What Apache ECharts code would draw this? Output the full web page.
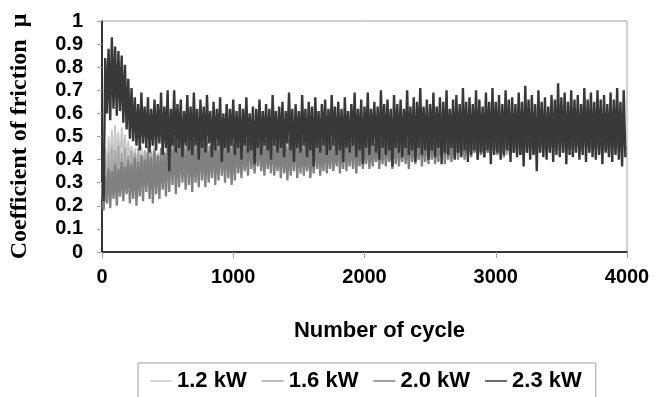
<!DOCTYPE html>
<html>
<head>
<meta charset="utf-8">
<script src="https://cdn.jsdelivr.net/npm/echarts@6/dist/echarts.min.js"></script>
<style>
  html, body { margin: 0; padding: 0; background: #fff; }
  #chart { width: 665px; height: 397px; }
</style>
</head>
<body>
<div id="chart"></div>
<script>
  const STEP = 25
  const seriesNames = ['1.2 kW', '1.6 kW', '2.0 kW', '2.3 kW']
  const xTicks = [0, 1000, 2000, 3000, 4000]

  const kw12Hi = [
    0.30, 0.45, 0.50, 0.53, 0.55, 0.52, 0.54, 0.51, 0.48, 0.46,
    0.45, 0.44, 0.46, 0.43, 0.45, 0.44, 0.46, 0.43, 0.45, 0.44,
    0.46, 0.48, 0.45, 0.47, 0.49, 0.46, 0.48, 0.45, 0.47, 0.49,
    0.46, 0.48, 0.47, 0.45, 0.49, 0.46, 0.48, 0.47, 0.45, 0.48,
    0.47, 0.45, 0.48, 0.46, 0.49, 0.47, 0.45, 0.48, 0.46, 0.49,
    0.47, 0.49, 0.46, 0.48, 0.45, 0.47, 0.49, 0.46, 0.48, 0.47,
    0.48, 0.46, 0.49, 0.47, 0.45, 0.48, 0.46, 0.49, 0.47, 0.48,
    0.46, 0.49, 0.47, 0.48, 0.46, 0.50, 0.47, 0.48, 0.46, 0.49,
    0.48, 0.47, 0.50, 0.46, 0.49, 0.47, 0.48, 0.50, 0.47, 0.49,
    0.47, 0.50, 0.48, 0.49, 0.47, 0.50, 0.48, 0.47, 0.49, 0.50,
    0.49, 0.47, 0.50, 0.48, 0.51, 0.49, 0.47, 0.50, 0.48, 0.51,
    0.48, 0.50, 0.49, 0.51, 0.48, 0.50, 0.52, 0.49, 0.51, 0.50,
    0.50, 0.52, 0.49, 0.51, 0.50, 0.52, 0.49, 0.51, 0.53, 0.50,
    0.51, 0.49, 0.52, 0.50, 0.53, 0.51, 0.49, 0.52, 0.50, 0.51,
    0.52, 0.50, 0.53, 0.51, 0.49, 0.52, 0.51, 0.53, 0.50, 0.52,
    0.50, 0.53, 0.51, 0.52, 0.50, 0.53, 0.51, 0.49, 0.52, 0.51
  ]
  const kw12Lo = [
    0.25, 0.36, 0.38, 0.37, 0.40, 0.38, 0.41, 0.39, 0.40, 0.38,
    0.36, 0.38, 0.35, 0.37, 0.36, 0.38, 0.36, 0.37, 0.35, 0.37,
    0.38, 0.40, 0.37, 0.39, 0.41, 0.38, 0.40, 0.37, 0.39, 0.41,
    0.39, 0.41, 0.38, 0.40, 0.42, 0.39, 0.41, 0.38, 0.40, 0.42,
    0.40, 0.38, 0.41, 0.39, 0.42, 0.40, 0.38, 0.41, 0.39, 0.42,
    0.40, 0.42, 0.39, 0.41, 0.43, 0.40, 0.42, 0.39, 0.41, 0.43,
    0.41, 0.39, 0.42, 0.40, 0.43, 0.41, 0.39, 0.42, 0.40, 0.43,
    0.41, 0.43, 0.40, 0.42, 0.41, 0.43, 0.40, 0.42, 0.44, 0.41,
    0.42, 0.40, 0.43, 0.41, 0.44, 0.42, 0.40, 0.43, 0.41, 0.44,
    0.42, 0.44, 0.41, 0.43, 0.42, 0.44, 0.41, 0.43, 0.45, 0.42,
    0.43, 0.41, 0.44, 0.42, 0.45, 0.43, 0.41, 0.44, 0.42, 0.45,
    0.43, 0.45, 0.42, 0.44, 0.43, 0.45, 0.42, 0.44, 0.46, 0.43,
    0.44, 0.42, 0.45, 0.43, 0.46, 0.44, 0.42, 0.45, 0.43, 0.46,
    0.44, 0.46, 0.43, 0.45, 0.44, 0.46, 0.43, 0.45, 0.47, 0.44,
    0.45, 0.43, 0.46, 0.44, 0.47, 0.45, 0.43, 0.46, 0.44, 0.47,
    0.45, 0.47, 0.44, 0.46, 0.45, 0.47, 0.44, 0.46, 0.48, 0.45
  ]

  const kw16Hi = [
    0.28, 0.40, 0.43, 0.45, 0.44, 0.46, 0.43, 0.45, 0.42, 0.44,
    0.43, 0.45, 0.42, 0.44, 0.46, 0.43, 0.45, 0.42, 0.44, 0.43,
    0.45, 0.47, 0.44, 0.46, 0.48, 0.45, 0.47, 0.44, 0.46, 0.48,
    0.45, 0.47, 0.46, 0.44, 0.48, 0.45, 0.47, 0.46, 0.44, 0.47,
    0.46, 0.44, 0.47, 0.45, 0.48, 0.46, 0.44, 0.47, 0.45, 0.48,
    0.46, 0.48, 0.45, 0.47, 0.44, 0.46, 0.48, 0.45, 0.47, 0.46,
    0.47, 0.45, 0.48, 0.46, 0.44, 0.47, 0.45, 0.48, 0.46, 0.47,
    0.45, 0.48, 0.46, 0.47, 0.45, 0.49, 0.46, 0.47, 0.45, 0.48,
    0.47, 0.46, 0.49, 0.45, 0.48, 0.46, 0.47, 0.49, 0.46, 0.48,
    0.46, 0.49, 0.47, 0.48, 0.46, 0.49, 0.47, 0.46, 0.48, 0.49,
    0.48, 0.46, 0.49, 0.47, 0.50, 0.48, 0.46, 0.49, 0.47, 0.50,
    0.47, 0.49, 0.48, 0.50, 0.47, 0.49, 0.51, 0.48, 0.50, 0.49,
    0.49, 0.51, 0.48, 0.50, 0.49, 0.51, 0.48, 0.50, 0.52, 0.49,
    0.50, 0.48, 0.51, 0.49, 0.52, 0.50, 0.48, 0.51, 0.49, 0.50,
    0.51, 0.49, 0.52, 0.50, 0.48, 0.51, 0.50, 0.52, 0.49, 0.51,
    0.49, 0.52, 0.50, 0.51, 0.49, 0.52, 0.50, 0.48, 0.51, 0.50
  ]
  const kw16Lo = [
    0.22, 0.27, 0.30, 0.28, 0.32, 0.30, 0.33, 0.31, 0.29, 0.32,
    0.31, 0.29, 0.32, 0.30, 0.33, 0.31, 0.29, 0.32, 0.30, 0.33,
    0.33, 0.35, 0.32, 0.34, 0.36, 0.33, 0.35, 0.32, 0.34, 0.36,
    0.35, 0.37, 0.34, 0.36, 0.38, 0.35, 0.37, 0.34, 0.36, 0.38,
    0.37, 0.35, 0.38, 0.36, 0.39, 0.37, 0.35, 0.38, 0.36, 0.39,
    0.38, 0.40, 0.37, 0.39, 0.41, 0.38, 0.40, 0.37, 0.39, 0.41,
    0.39, 0.37, 0.40, 0.38, 0.41, 0.39, 0.37, 0.40, 0.38, 0.41,
    0.39, 0.41, 0.38, 0.40, 0.39, 0.41, 0.38, 0.40, 0.42, 0.39,
    0.40, 0.38, 0.41, 0.39, 0.42, 0.40, 0.38, 0.41, 0.39, 0.42,
    0.41, 0.43, 0.40, 0.42, 0.41, 0.43, 0.40, 0.42, 0.44, 0.41,
    0.42, 0.40, 0.43, 0.41, 0.44, 0.42, 0.40, 0.43, 0.41, 0.44,
    0.42, 0.44, 0.41, 0.43, 0.42, 0.44, 0.41, 0.43, 0.45, 0.42,
    0.43, 0.41, 0.44, 0.42, 0.45, 0.43, 0.41, 0.44, 0.42, 0.45,
    0.44, 0.46, 0.43, 0.45, 0.44, 0.46, 0.43, 0.45, 0.47, 0.44,
    0.45, 0.43, 0.46, 0.44, 0.47, 0.45, 0.43, 0.46, 0.44, 0.47,
    0.45, 0.47, 0.44, 0.46, 0.45, 0.47, 0.44, 0.46, 0.48, 0.45
  ]

  const kw20Hi = [
    0.28, 0.33, 0.36, 0.35, 0.38, 0.36, 0.39, 0.37, 0.40, 0.38,
    0.41, 0.39, 0.42, 0.40, 0.43, 0.41, 0.44, 0.42, 0.45, 0.43,
    0.48, 0.46, 0.50, 0.47, 0.49, 0.46, 0.51, 0.47, 0.49, 0.46,
    0.50, 0.47, 0.48, 0.46, 0.51, 0.47, 0.49, 0.46, 0.50, 0.48,
    0.47, 0.50, 0.46, 0.49, 0.47, 0.51, 0.46, 0.48, 0.50, 0.47,
    0.49, 0.46, 0.51, 0.47, 0.48, 0.50, 0.46, 0.49, 0.47, 0.51,
    0.48, 0.50, 0.47, 0.49, 0.46, 0.51, 0.48, 0.47, 0.50, 0.48,
    0.49, 0.47, 0.51, 0.48, 0.50, 0.47, 0.49, 0.51, 0.48, 0.50,
    0.48, 0.51, 0.49, 0.47, 0.50, 0.48, 0.52, 0.49, 0.47, 0.50,
    0.51, 0.48, 0.50, 0.49, 0.52, 0.48, 0.50, 0.51, 0.49, 0.52,
    0.50, 0.52, 0.49, 0.51, 0.50, 0.53, 0.49, 0.51, 0.52, 0.50,
    0.52, 0.50, 0.53, 0.51, 0.49, 0.52, 0.50, 0.53, 0.51, 0.52,
    0.51, 0.53, 0.50, 0.52, 0.54, 0.51, 0.53, 0.50, 0.52, 0.54,
    0.52, 0.50, 0.53, 0.51, 0.54, 0.52, 0.50, 0.53, 0.51, 0.52,
    0.53, 0.51, 0.54, 0.52, 0.50, 0.53, 0.51, 0.54, 0.52, 0.53,
    0.51, 0.54, 0.52, 0.53, 0.51, 0.54, 0.52, 0.50, 0.53, 0.52
  ]
  const kw20Lo = [
    0.18, 0.21, 0.19, 0.23, 0.20, 0.24, 0.22, 0.25, 0.21, 0.23,
    0.20, 0.24, 0.22, 0.26, 0.23, 0.21, 0.25, 0.23, 0.27, 0.24,
    0.26, 0.29, 0.25, 0.28, 0.30, 0.27, 0.29, 0.26, 0.30, 0.28,
    0.31, 0.28, 0.30, 0.32, 0.29, 0.31, 0.33, 0.30, 0.32, 0.29,
    0.31, 0.34, 0.32, 0.35, 0.33, 0.36, 0.34, 0.37, 0.35, 0.33,
    0.36, 0.34, 0.33, 0.35, 0.32, 0.34, 0.31, 0.33, 0.35, 0.32,
    0.34, 0.33, 0.35, 0.32, 0.34, 0.36, 0.33, 0.35, 0.34, 0.36,
    0.35, 0.37, 0.34, 0.36, 0.35, 0.37, 0.36, 0.34, 0.37, 0.36,
    0.38, 0.36, 0.37, 0.39, 0.36, 0.38, 0.37, 0.39, 0.36, 0.38,
    0.37, 0.39, 0.38, 0.36, 0.39, 0.38, 0.40, 0.37, 0.39, 0.38,
    0.40, 0.38, 0.39, 0.41, 0.38, 0.40, 0.39, 0.41, 0.40, 0.42,
    0.40, 0.42, 0.41, 0.43, 0.40, 0.42, 0.41, 0.43, 0.42, 0.44,
    0.42, 0.43, 0.41, 0.44, 0.42, 0.43, 0.45, 0.42, 0.44, 0.43,
    0.44, 0.42, 0.45, 0.43, 0.44, 0.42, 0.45, 0.43, 0.44, 0.46,
    0.43, 0.45, 0.44, 0.42, 0.45, 0.43, 0.44, 0.46, 0.43, 0.45,
    0.44, 0.43, 0.45, 0.44, 0.42, 0.45, 0.43, 0.44, 0.46, 0.44
  ]

  const kw23Hi = [
    0.42, 0.84, 0.88, 0.93, 0.89, 0.87, 0.85, 0.81, 0.75, 0.71,
    0.67, 0.64, 0.69, 0.63, 0.67, 0.62, 0.66, 0.64, 0.69, 0.63,
    0.70, 0.62, 0.70, 0.64, 0.66, 0.61, 0.68, 0.63, 0.69, 0.62,
    0.66, 0.63, 0.68, 0.61, 0.65, 0.62, 0.67, 0.60, 0.64, 0.62,
    0.66, 0.61, 0.64, 0.62, 0.67, 0.60, 0.63, 0.62, 0.66, 0.61,
    0.64, 0.62, 0.68, 0.61, 0.63, 0.65, 0.61, 0.69, 0.62, 0.64,
    0.61, 0.68, 0.62, 0.65, 0.63, 0.67, 0.61, 0.64, 0.66, 0.62,
    0.68, 0.63, 0.65, 0.62, 0.67, 0.61, 0.64, 0.69, 0.62, 0.66,
    0.63, 0.69, 0.62, 0.65, 0.63, 0.70, 0.64, 0.66, 0.62, 0.68,
    0.64, 0.66, 0.62, 0.70, 0.63, 0.67, 0.65, 0.71, 0.63, 0.66,
    0.64, 0.69, 0.63, 0.67, 0.65, 0.70, 0.62, 0.66, 0.68, 0.64,
    0.71, 0.65, 0.67, 0.64, 0.70, 0.66, 0.63, 0.69, 0.65, 0.71,
    0.65, 0.68, 0.64, 0.70, 0.66, 0.67, 0.64, 0.69, 0.65, 0.72,
    0.66, 0.68, 0.64, 0.70, 0.65, 0.67, 0.63, 0.68, 0.66, 0.73,
    0.67, 0.69, 0.65, 0.70, 0.66, 0.68, 0.64, 0.71, 0.66, 0.69,
    0.65, 0.70, 0.66, 0.68, 0.64, 0.69, 0.66, 0.71, 0.65, 0.70
  ]
  const kw23Lo = [
    0.22, 0.60, 0.57, 0.62, 0.59, 0.61, 0.56, 0.53, 0.49, 0.48,
    0.46, 0.44, 0.47, 0.45, 0.43, 0.46, 0.44, 0.47, 0.42, 0.45,
    0.35, 0.46, 0.43, 0.45, 0.41, 0.46, 0.44, 0.42, 0.46, 0.40,
    0.45, 0.43, 0.47, 0.41, 0.44, 0.46, 0.39, 0.45, 0.43, 0.46,
    0.42, 0.45, 0.40, 0.46, 0.43, 0.44, 0.38, 0.45, 0.42, 0.46,
    0.44, 0.40, 0.46, 0.43, 0.45, 0.41, 0.47, 0.44, 0.39, 0.45,
    0.43, 0.46, 0.41, 0.44, 0.37, 0.45, 0.43, 0.46, 0.42, 0.44,
    0.46, 0.42, 0.44, 0.39, 0.45, 0.43, 0.46, 0.41, 0.44, 0.38,
    0.45, 0.42, 0.46, 0.43, 0.40, 0.45, 0.42, 0.44, 0.37, 0.45,
    0.43, 0.41, 0.45, 0.42, 0.44, 0.39, 0.45, 0.42, 0.44, 0.40,
    0.44, 0.41, 0.45, 0.38, 0.43, 0.42, 0.45, 0.40, 0.43, 0.41,
    0.44, 0.39, 0.42, 0.44, 0.40, 0.43, 0.41, 0.44, 0.38, 0.42,
    0.43, 0.40, 0.42, 0.44, 0.39, 0.43, 0.41, 0.42, 0.37, 0.43,
    0.40, 0.42, 0.35, 0.43, 0.41, 0.40, 0.43, 0.39, 0.42, 0.41,
    0.43, 0.38, 0.42, 0.41, 0.43, 0.40, 0.42, 0.39, 0.43, 0.41,
    0.40, 0.42, 0.38, 0.43, 0.41, 0.39, 0.42, 0.40, 0.37, 0.41
  ]

  const colors = ['#c8c8c8', '#a6a6a6', '#808080', '#383838']
  const widths = [1.8, 1.8, 2.3, 2.4]

  // put the upper and lower swing of each 25-cycle slot one after the other
  function trace(hi, lo) {
    let pts = []
    hi.forEach((h, i) => {
      pts.push([i * STEP, h])
      pts.push([i * STEP + STEP / 2, lo[i]])
    })
    return pts
  }

  const traces = [
    trace(kw12Hi, kw12Lo),
    trace(kw16Hi, kw16Lo),
    trace(kw20Hi, kw20Lo),
    trace(kw23Hi, kw23Lo)
  ]

  const sans = 'Liberation Sans, Arial, sans-serif'
  let myChart = echarts.init(document.getElementById('chart'))

  let option = {
    animation: false,
    backgroundColor: '#fff',
    color: colors,
    grid: {
      left: 102,
      right: 38,
      top: 21,
      bottom: 145,
      show: true,
      borderColor: '#a0a0a0',
      borderWidth: 1
    },
    legend: {
      left: 138,
      top: 363,
      padding: [7, 14, 12, 12],
      icon: 'rect',
      itemWidth: 22,
      itemHeight: 1.5,
      itemGap: 15,
      borderColor: '#a0a0a0',
      borderWidth: 1,
      textStyle: {
        fontFamily: sans,
        fontWeight: 'bold',
        fontSize: 22,
        color: '#000'
      },
      data: seriesNames
    },
    xAxis: {
      type: 'value',
      min: 0,
      max: 4000,
      interval: 1000,
      name: 'Number of cycle',
      nameLocation: 'middle',
      nameGap: 68,
      nameTextStyle: {
        fontFamily: sans,
        fontWeight: 'bold',
        fontSize: 22,
        color: '#000',
        padding: [0, 0, 0, 30]
      },
      axisLine: { lineStyle: { color: '#000', width: 1.5 } },
      axisTick: { show: true, length: 6, lineStyle: { color: '#a0a0a0' } },
      splitLine: { show: false },
      axisLabel: {
        margin: 15,
        fontFamily: sans,
        fontWeight: 'bold',
        fontSize: 20,
        color: '#000',
        formatter: v => xTicks.indexOf(v) >= 0 ? String(v) : ''
      }
    },
    yAxis: {
      type: 'value',
      min: 0,
      max: 1,
      interval: 0.1,
      name: 'Coefficient of friction  μ',
      nameLocation: 'middle',
      nameGap: 70,
      nameTextStyle: {
        fontFamily: 'Liberation Serif, Times New Roman, serif',
        fontWeight: 'bold',
        fontSize: 24,
        color: '#000'
      },
      axisLine: { show: true, lineStyle: { color: '#000', width: 1.5 } },
      axisTick: { show: true, length: 5, lineStyle: { color: '#a0a0a0' } },
      splitLine: { show: false },
      axisLabel: {
        margin: 19,
        padding: [7, 0, 0, 0],
        fontFamily: sans,
        fontWeight: 'bold',
        fontSize: 20,
        color: '#000'
      }
    },
    series: seriesNames.map((name, i) => ({
      name: name,
      type: 'line',
      symbol: 'none',
      lineStyle: { width: widths[i], color: colors[i] },
      data: traces[i]
    }))
  }

  myChart.setOption(option)
  window.addEventListener('resize', () => myChart.resize())
</script>
</body>
</html>
